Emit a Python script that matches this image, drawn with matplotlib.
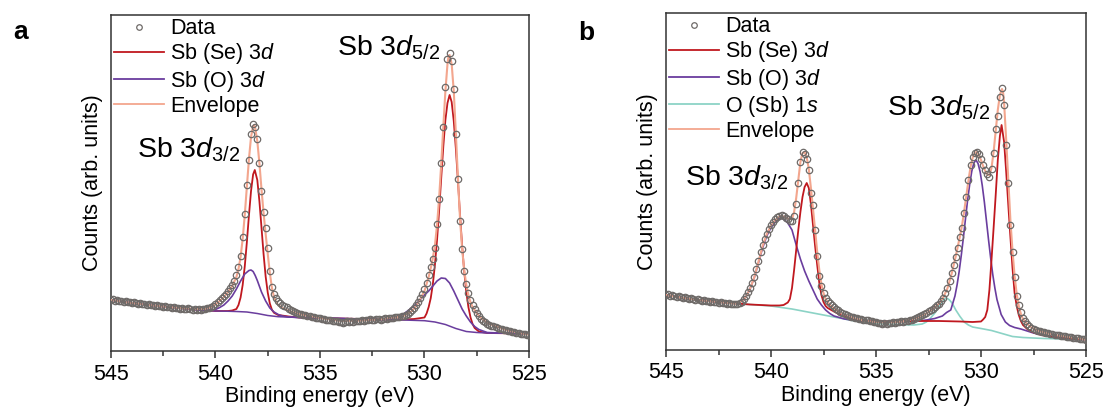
import numpy as np
import matplotlib
matplotlib.use("Agg")
import matplotlib.pyplot as plt
from matplotlib.lines import Line2D

plt.rcParams["font.family"] = ["Liberation Sans", "DejaVu Sans"]
plt.rcParams["mathtext.fontset"] = "custom"
plt.rcParams["mathtext.rm"] = "Liberation Sans"
plt.rcParams["mathtext.it"] = "Liberation Sans:italic"
plt.rcParams["mathtext.bf"] = "Liberation Sans:bold"

# binding energy channels (0.1 eV step), counts in arb. units
energy = np.linspace(545, 525, 201)

# ---------------- panel a ----------------
counts_a = [
    51, 52, 50, 51, 50, 50, 49, 50, 49, 49,
    48, 49, 48, 47, 48, 47, 47, 46, 47, 46,
    46, 45, 46, 45, 45, 44, 45, 44, 44, 43,
    44, 43, 43, 42, 43, 42, 42, 43, 42, 41,
    42, 41, 42, 41, 42, 42, 43, 43, 44, 45,
    47, 49, 51, 53, 55, 57, 60, 63, 66, 70,
    76, 84, 95, 114, 137, 166, 191, 217, 227, 224,
    212, 188, 160, 139, 123, 103, 80, 64, 57, 53,
    50, 48, 46, 45, 44, 42, 41, 40, 39, 38,
    37, 37, 36, 36, 35, 35, 34, 34, 33, 33,
    33, 32, 32, 31, 31, 31, 30, 30, 30, 29,
    29, 28, 29, 30, 29, 30, 29, 30, 30, 30,
    31, 30, 31, 31, 32, 31, 31, 32, 32, 31,
    32, 33, 32, 33, 33, 33, 34, 34, 34, 35,
    35, 36, 37, 39, 41, 43, 46, 49, 53, 57,
    62, 68, 76, 84, 92, 103, 127, 152, 188, 224,
    264, 292, 298, 290, 262, 217, 172, 130, 102, 80,
    67, 58, 51, 46, 42, 38, 35, 32, 30, 29,
    27, 26, 25, 25, 24, 23, 22, 22, 21, 21,
    20, 20, 19, 19, 18, 18, 17, 17, 17, 16,
    16]

se_a_e = [545, 544, 543, 542, 541, 540, 539.4, 539.2, 539.0, 538.9, 538.8, 538.7,
          538.6, 538.5, 538.4, 538.3, 538.2, 538.12, 538.0, 537.9, 537.8, 537.7,
          537.6, 537.5, 537.4, 537.3, 537.2, 537.0, 536.5, 536, 535, 534, 533,
          532, 531, 530.5, 530.0, 529.9, 529.8, 529.7, 529.6, 529.5, 529.4,
          529.3, 529.2, 529.1, 529.0, 528.9, 528.8, 528.7, 528.6, 528.5, 528.4,
          528.3, 528.2, 528.1, 528.0, 527.9, 527.8, 527.7, 527.6, 527.4, 527.0,
          526, 525]
se_a = [51, 48, 45.5, 43.5, 41.5, 40, 40, 40.5, 42, 46, 53.5, 66,
        84.6, 108.7, 135.5, 160, 176.6, 181, 171, 150, 123.7, 97,
        74.4, 58.4, 47.5, 41.2, 38.2, 36, 34.5, 33.5, 33, 32.5, 32,
        31.5, 31.5, 32, 33.5, 37.5, 44, 53, 67, 86.5, 111,
        140.5, 173, 204.5, 231, 248, 256, 249, 230, 202.5, 170,
        136.5, 105.5, 79.5, 59, 44, 33.7, 27, 23, 19.5, 18,
        17.7, 17.3]

o_a_e = [545, 544, 543, 542, 541, 540.5, 540.0, 539.8, 539.6, 539.4, 539.2, 539.0,
         538.8, 538.6, 538.4, 538.3, 538.2, 538.1, 538.0, 537.8, 537.6, 537.4,
         537.2, 537.0, 536.8, 536.5, 536, 535, 534, 533, 532, 531.5, 531.0,
         530.5, 530.0, 529.8, 529.6, 529.4, 529.2, 529.0, 528.8, 528.6, 528.4,
         528.2, 528.0, 527.8, 527.6, 527.4, 527.2, 527.0, 526, 525]
o_a = [51, 48, 45.5, 43.5, 41.5, 40.7, 41.5, 43.5, 46, 50, 55, 62,
       70, 77, 80.5, 81, 79.5, 75.5, 70.5, 59, 50, 43,
       39, 36.5, 35, 34, 33.5, 33, 32.5, 32, 31.5, 33, 37,
       45, 56, 60, 65, 70, 73, 72.5, 68, 60, 51,
       42, 35, 29, 24.5, 21.5, 20, 18.5, 17.7, 17.3]

bg_a_e = [545, 544, 543, 542, 541, 540.5, 540, 539.5, 539, 538.5, 538, 537.5, 537,
          536, 535, 534, 533, 532, 531, 530, 529.5, 529, 528.5, 528, 527.5, 527,
          526, 525]
bg_a = [51, 48, 45.5, 43.5, 41.5, 40.5, 40, 39.8, 39.5, 39, 37.5, 35.5, 34.3,
        33.5, 33, 32.5, 32, 31.5, 31, 30.3, 29, 26.5, 22.5, 19.5, 18.5, 18,
        17.7, 17.3]

env_a_e = [545, 544, 543, 542, 541, 540.5, 540.2, 540.0, 539.8, 539.6, 539.4, 539.2,
           539.0, 538.9, 538.8, 538.7, 538.6, 538.5, 538.4, 538.3, 538.2, 538.15,
           538.1, 538.0, 537.9, 537.8, 537.7, 537.6, 537.5, 537.4, 537.3, 537.2,
           537.1, 537.0, 536.8, 536.6, 536.4, 536.0, 535.0, 534.0, 533.0, 532.0,
           531.5, 531.0, 530.6, 530.4, 530.2, 530.0, 529.8, 529.7, 529.6, 529.5,
           529.4, 529.3, 529.2, 529.1, 529.0, 528.9, 528.85, 528.8, 528.7, 528.6,
           528.5, 528.4, 528.3, 528.2, 528.1, 528.0, 527.9, 527.8, 527.7, 527.5,
           527.3, 527.0, 526.5, 526.0, 525.5, 525.0]
env_a = [51, 48, 45.5, 43.5, 42, 42, 44, 46.5, 50, 54, 59, 65,
         74, 82, 94, 112, 136, 164, 192, 214, 225, 226,
         223, 210, 188, 162, 138, 117, 97, 78, 63, 54,
         49, 46, 43, 41, 39.5, 37, 33, 30, 30.5, 32,
         33.5, 35, 40, 45, 52, 60, 74, 83, 93, 106,
         126, 153, 187, 224, 260, 287, 295, 296, 287, 260,
         218, 173, 132, 102, 81, 66, 56, 49, 44, 38,
         33, 28, 24, 20.5, 18, 16.5]

# ---------------- panel b ----------------
counts_b = [
    55, 56, 54, 55, 54, 53, 54, 53, 52, 53,
    52, 51, 52, 51, 50, 51, 50, 49, 50, 49,
    49, 48, 49, 48, 48, 47, 48, 47, 47, 46,
    47, 46, 46, 46, 46, 47, 48, 51, 54, 58,
    62, 67, 73, 81, 89, 98, 105, 111, 116, 121,
    125, 128, 131, 133, 134, 135, 134, 132, 131, 129,
    129, 134, 146, 167, 188, 198, 196, 191, 180, 157,
    145, 120, 94, 74, 64, 57, 52, 49, 47, 45,
    43, 41, 40, 38, 37, 36, 35, 34, 33, 33,
    32, 32, 31, 31, 30, 30, 30, 29, 29, 28,
    28, 27, 27, 26, 27, 26, 27, 27, 28, 27,
    28, 28, 29, 28, 29, 29, 30, 30, 31, 32,
    33, 34, 35, 36, 37, 39, 40, 41, 43, 45,
    46, 49, 52, 57, 62, 69, 77, 85, 93, 102,
    113, 122, 137, 153, 170, 185, 193, 197, 198, 196,
    191, 185, 180, 176, 173, 181, 197, 221, 234, 253,
    262, 245, 205, 167, 125, 98, 73, 54, 45, 38,
    32, 29, 26, 24, 22, 21, 20, 19, 19, 18,
    18, 17, 17, 16, 16, 15, 15, 15, 14, 14,
    14, 13, 13, 13, 12, 12, 12, 11, 11, 11,
    10]

se_b_e = [545, 544, 543, 542, 541, 540.5, 540, 539.6, 539.4, 539.2, 539.1, 539.0,
          538.9, 538.8, 538.7, 538.6, 538.5, 538.4, 538.3, 538.2, 538.1, 538.0,
          537.9, 537.8, 537.7, 537.6, 537.5, 537.4, 537.3, 537.0, 536.7, 536.3,
          536, 535.5, 535, 534, 533, 532, 531, 530.4, 530.0, 529.9, 529.8,
          529.7, 529.6, 529.5, 529.4, 529.3, 529.2, 529.1, 529.02, 528.9, 528.8,
          528.7, 528.6, 528.5, 528.4, 528.3, 528.2, 528.1, 528.0, 527.8, 527.6,
          527.3, 527, 526.5, 526, 525.5, 525]
se_b = [55, 51.5, 49, 47, 45.5, 45, 44.5, 44.5, 45, 47.5, 51, 62,
        80, 100, 120, 138, 153, 163, 167, 162, 146, 125,
        104, 85, 67, 55, 48, 44, 42, 38.5, 35, 32,
        30.5, 29, 28.5, 28.5, 29, 29, 28.5, 28, 28.5, 30.5, 33,
        40, 60, 90, 122, 155, 190, 214, 225, 208, 178,
        145, 113, 82, 57, 44, 35, 29, 25, 21, 18.5,
        16, 14.5, 13, 12, 11, 10.5]

o_b_e = [545, 544, 543, 542, 541.6, 541.4, 541.2, 541.0, 540.8, 540.6, 540.4, 540.2,
         540.0, 539.8, 539.6, 539.5, 539.4, 539.2, 539.0, 538.8, 538.6, 538.4,
         538.2, 538.0, 537.8, 537.6, 537.4, 537.2, 537.0, 536.5, 536, 535, 534,
         533, 532.6, 532.2, 531.84, 531.64, 531.44, 531.24, 531.14, 531.04,
         530.94, 530.84, 530.74, 530.64, 530.54, 530.44, 530.34, 530.24, 530.14,
         530.04, 529.94, 529.84, 529.74, 529.64, 529.54, 529.44, 529.34, 529.24,
         529.04, 528.84, 528.64, 528.4, 528.1, 527.8, 527.5, 527, 526.5, 526,
         525.5, 525]
o_b = [55, 51.5, 49, 47, 47, 49, 53, 61, 72, 87, 102, 114,
       122.5, 128, 131.5, 131.7, 131, 127, 120, 105, 91, 79,
       69, 60, 51, 45, 40, 36.5, 34, 31, 29.5, 28.5, 28.5,
       29, 30, 31.5, 34, 37.5, 40, 54, 65, 78.5,
       94.5, 112, 131, 149.5, 165.5, 178.7, 187, 190, 186.5,
       178, 164.5, 148, 129, 110, 92, 75.5, 62, 50.5,
       35.5, 28, 24.5, 22.5, 21, 19, 17, 14.5, 13, 12,
       11, 10.5]

os_b_e = [545, 544, 543, 542, 541, 540, 539, 538, 537, 536, 535, 534, 533.2,
          532.8, 532.6, 532.4, 532.2, 532.0, 531.9, 531.8, 531.7, 531.6, 531.5,
          531.4, 531.3, 531.2, 531.0, 530.8, 530.6, 530.4, 530.0, 529.5, 529,
          528.5, 528, 527, 526, 525]
os_b = [55, 51.5, 49, 47, 45.5, 44, 41, 37, 33, 29, 26.5, 25.5, 25,
        26, 28, 32, 37, 43, 46.5, 49.5, 51.5, 51.5, 50,
        47.5, 44, 40, 33.5, 28, 25, 23, 21.5, 19.5, 16.5,
        13.5, 12.5, 11.5, 11, 10.5]

env_b_e = [545, 544, 543, 542, 541.6, 541.4, 541.2, 541.0, 540.8, 540.6, 540.4,
           540.2, 540.0, 539.8, 539.6, 539.5, 539.4, 539.3, 539.2, 539.1, 539.0,
           538.9, 538.8, 538.7, 538.6, 538.5, 538.4, 538.3, 538.2, 538.1, 538.0,
           537.9, 537.8, 537.7, 537.6, 537.5, 537.4, 537.2, 537.0, 536.7, 536.4,
           536.0, 535.5, 535.0, 534.5, 534.0, 533.5, 533.0, 532.6, 532.2, 532.0,
           531.8, 531.6, 531.4, 531.2, 531.0, 530.9, 530.8, 530.7, 530.6, 530.5,
           530.4, 530.3, 530.2, 530.1, 530.0, 529.9, 529.8, 529.7, 529.6, 529.5,
           529.4, 529.3, 529.2, 529.1, 529.0, 528.95, 528.9, 528.8, 528.7, 528.6,
           528.5, 528.4, 528.3, 528.2, 528.1, 528.0, 527.8, 527.6, 527.3, 527.0,
           526.5, 526.0, 525.5, 525.0]
env_b = [55, 51.5, 49, 47, 46.5, 48.5, 53, 61, 72.5, 88, 104,
         116, 124.5, 130, 133.5, 134, 133.5, 132.5, 131.5, 131, 131,
         138, 152, 170, 188, 197, 198, 193, 181, 162, 141,
         120, 98, 80, 66, 57, 51, 45, 41.5, 37.5, 34.5,
         31.5, 29, 28, 27.5, 28, 29.5, 32.5, 36.5, 42.5, 46.5,
         52.5, 61.5, 76, 94, 114, 125, 139, 154, 169, 183,
         192, 197, 198, 195, 190, 184, 179, 175.5, 175, 182,
         198, 219, 240, 255, 261, 258, 247, 210, 170, 130,
         99, 74, 56, 44, 36, 31, 26, 22.5, 19.5, 17.5,
         15, 13.5, 12, 10.5]

c_data = "#6e6a68"
c_se = "#c0181f"
c_o = "#6a3d9e"
c_os = "#8cd3c6"
c_env = "#f3a68e"

fig = plt.figure(figsize=(11.06, 4.08), dpi=100)
ax_a = fig.add_axes([111 / 1106, 57 / 408, 418 / 1106, 336 / 408])
ax_b = fig.add_axes([666 / 1106, 58 / 408, 420 / 1106, 337 / 408])

ms = 4.6
ax_a.plot(se_a_e, se_a, color=c_se, lw=1.3, zorder=3)
ax_a.plot(bg_a_e, bg_a, color=c_o, lw=1.1, zorder=3)
ax_a.plot(o_a_e, o_a, color=c_o, lw=1.2, zorder=3)
ax_a.plot(env_a_e, env_a, color=c_env, lw=1.5, zorder=4)
ax_a.plot(energy, counts_a, "o", mfc="none", mec=c_data, ms=ms, mew=0.9, zorder=5)

ax_b.plot(os_b_e, os_b, color=c_os, lw=1.2, zorder=3)
ax_b.plot(o_b_e, o_b, color=c_o, lw=1.2, zorder=3)
ax_b.plot(se_b_e, se_b, color=c_se, lw=1.3, zorder=3)
ax_b.plot(env_b_e, env_b, color=c_env, lw=1.5, zorder=4)
ax_b.plot(energy, counts_b, "o", mfc="none", mec=c_data, ms=ms, mew=0.9, zorder=5)

ax_a.set_ylim(0, 336)
ax_b.set_ylim(0, 337)

for ax in (ax_a, ax_b):
    ax.set_xlim(545, 525)
    ax.set_xticks([545, 540, 535, 530, 525])
    ax.set_xticks([542.5, 537.5, 532.5, 527.5], minor=True)
    ax.set_yticks([])
    ax.tick_params(axis="x", which="major", direction="out", length=5, width=1.1,
                   labelsize=15.5, pad=4, color="#333333")
    ax.tick_params(axis="x", which="minor", direction="out", length=3.5, width=1.1,
                   color="#333333")
    for s in ax.spines.values():
        s.set_linewidth(1.1)
        s.set_color("#333333")
    ax.set_xlabel("Binding energy (eV)", fontsize=15.5, labelpad=1)
    ax.set_ylabel("Counts (arb. units)", fontsize=15.5, labelpad=6)

h_data = Line2D([], [], ls="none", marker="o", mfc="none", mec=c_data, ms=4, mew=0.9)
h_se = Line2D([], [], color=c_se, lw=1.3)
h_o = Line2D([], [], color=c_o, lw=1.3)
h_os = Line2D([], [], color=c_os, lw=1.3)
h_env = Line2D([], [], color=c_env, lw=1.3)

leg_kw = dict(loc="upper left", bbox_to_anchor=(0.0, 1.0), frameon=False, fontsize=15.5,
              handlelength=2.3, handletextpad=0.3, labelspacing=0.1, borderpad=0.15,
              borderaxespad=0.0)
ax_a.legend([h_data, h_se, h_o, h_env],
            ["Data", "Sb (Se) 3$d$", "Sb (O) 3$d$", "Envelope"], **leg_kw)
ax_b.legend([h_data, h_se, h_o, h_os, h_env],
            ["Data", "Sb (Se) 3$d$", "Sb (O) 3$d$", "O (Sb) 1$s$", "Envelope"], **leg_kw)

ax_a.text(543.76, 194, "Sb 3$d_{3/2}$", fontsize=20.5, va="baseline")
ax_a.text(534.2, 296, "Sb 3$d_{5/2}$", fontsize=20.5, va="baseline")
ax_b.text(544.1, 165, "Sb 3$d_{3/2}$", fontsize=20.5, va="baseline")
ax_b.text(534.48, 235, "Sb 3$d_{5/2}$", fontsize=20.5, va="baseline")

fig.text(13 / 1106, 1 - 39 / 408, "a", fontsize=19, fontweight="bold", va="baseline")
fig.text(578 / 1106, 1 - 40 / 408, "b", fontsize=19, fontweight="bold", va="baseline")

fig.savefig("out.png", dpi=100)
